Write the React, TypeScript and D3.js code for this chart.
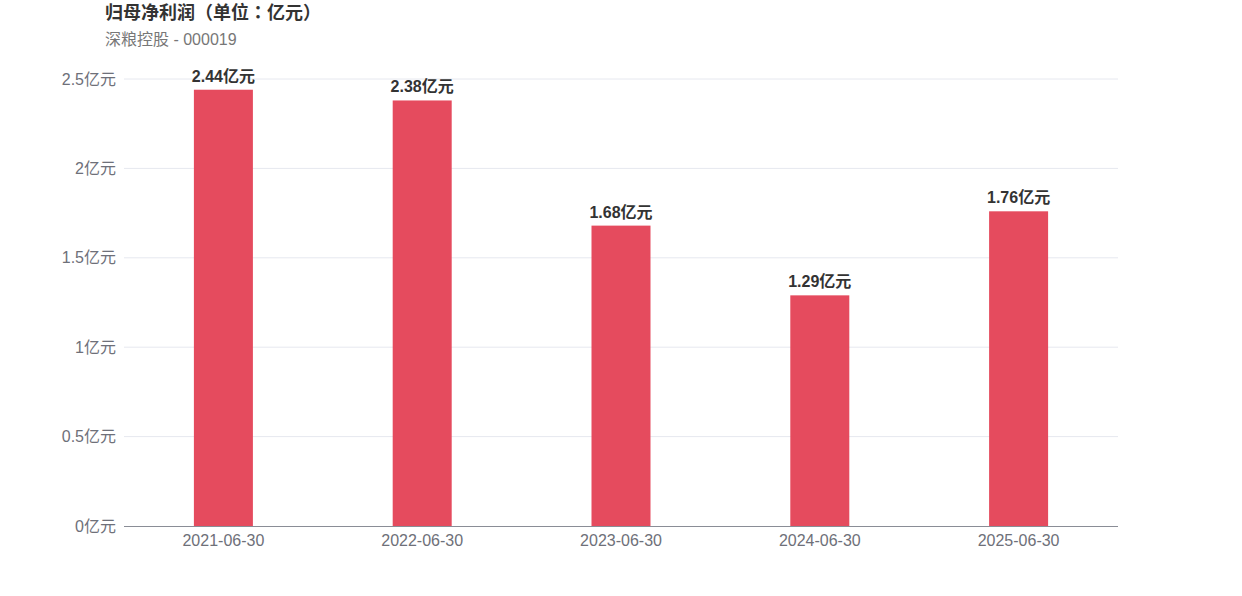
import React from "react";
import * as d3 from "d3";

const categories = ["2021-06-30", "2022-06-30", "2023-06-30", "2024-06-30", "2025-06-30"];
const values = [2.44, 2.38, 1.68, 1.29, 1.76];
const yTicks = [0, 0.5, 1, 1.5, 2, 2.5];
const titleText = "归母净利润（单位：亿元）";
const subtitleText = "深粮控股 - 000019";

const W = 1242;
const H = 596;
const left = 124;
const right = 1118;
const top = 79;
const bottom = 526;
const FONT = "'Liberation Sans', Arial, 'Noto Sans CJK SC', sans-serif";
const TITLE_FONT = "'Liberation Sans', Arial, 'Noto Sans CJK TC', sans-serif";

export default function App() {
  const x = d3.scaleBand<string>().domain(categories).range([left, right]).paddingInner(0).paddingOuter(0);
  const y = d3.scaleLinear().domain([0, 2.5]).range([bottom, top]);
  const barW = 59;
  const fmt = (v: number) => `${v}亿元`;
  return (
    <svg width={W} height={H} style={{ position: "absolute", left: 0, top: 0, fontFamily: FONT }}>
      <rect width={W} height={H} fill="#fff" />
      <text x={105} y={19} fontSize={18} fontWeight="bold" fill="#333" fontFamily={TITLE_FONT}>{titleText}</text>
      <text x={105} y={45} fontSize={16} fill="#777">{subtitleText}</text>
      {yTicks.map((t) => (
        <g key={t}>
          {t !== 0 && <line x1={left} x2={right} y1={y(t)} y2={y(t)} stroke="#e6e8ef" strokeWidth={1} />}
          <text x={116} y={y(t)} dy="0.35em" textAnchor="end" fontSize={16} fill="#6e7079">{fmt(t)}</text>
        </g>
      ))}
      {categories.map((c, i) => {
        const cx = (x(c) as number) + x.bandwidth() / 2;
        return (
          <g key={c}>
            <rect x={cx - barW / 2} y={y(values[i])} width={barW} height={bottom - y(values[i])} fill="#e54b5e" />
            <text x={cx} y={y(values[i]) - 8} textAnchor="middle" fontSize={16} fontWeight="bold" fill="#333">{fmt(values[i])}</text>
            <text x={cx} y={546} textAnchor="middle" fontSize={16} fill="#6e7079">{c}</text>
          </g>
        );
      })}
      <line x1={left} x2={right} y1={bottom + 0.5} y2={bottom + 0.5} stroke="#8a8d96" strokeWidth={1} />
    </svg>
  );
}
